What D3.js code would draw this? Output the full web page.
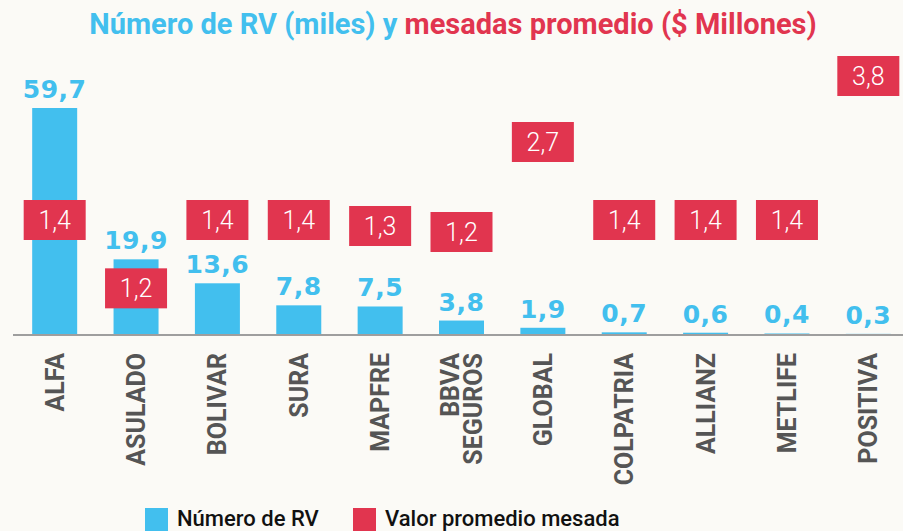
<!DOCTYPE html>
<html>
<head>
<meta charset="utf-8">
<script src="https://cdn.jsdelivr.net/npm/d3@7"></script>
<style>
  body { margin: 0; background: #fbfaf6; }
  svg { display: block; }
</style>
</head>
<body>
<script>
// datos
var aseguradoras = ["ALFA", "ASULADO", "BOLIVAR", "SURA", "MAPFRE", "BBVA SEGUROS", "GLOBAL", "COLPATRIA", "ALLIANZ", "METLIFE", "POSITIVA"];
var numeroRV = [59.7, 19.9, 13.6, 7.8, 7.5, 3.8, 1.9, 0.7, 0.6, 0.4, 0.3];
var mesada = [1.4, 1.2, 1.4, 1.4, 1.3, 1.2, 2.7, 1.4, 1.4, 1.4, 3.8];
var leyenda = ["Número de RV", "Valor promedio mesada"];

var width = 903, height = 531;
var azul = "#42bfee", rojo = "#e1354f";
var coma = d3.format(".1f");
function fmt(v) { return coma(v).replace(".", ","); }

var svg = d3.select("body").append("svg")
  .attr("width", width)
  .attr("height", height)
  .style("background", "#fbfaf6");

var x = d3.scaleBand()
  .domain(aseguradoras)
  .range([14, 909])
  .paddingInner(0.447)
  .paddingOuter(0.2235);

var y = d3.scaleLinear().domain([0, 59.7]).range([335, 108]);
// escala propia para las cajas rojas
var yR = d3.scaleLinear().domain([0, 3.8]).range([304, 76]);

var data = aseguradoras.map(function (d, i) {
  return { name: d, rv: numeroRV[i], mesada: mesada[i] };
});

// titulo
var title = svg.append("text")
  .attr("x", 453)
  .attr("y", 34)
  .attr("text-anchor", "middle")
  .style("font-family", "Roboto")
  .style("font-weight", "bold")
  .style("font-size", "29px");
title.append("tspan").attr("fill", azul).text("Número de RV (miles) y ");
title.append("tspan").attr("fill", rojo).text("mesadas promedio ($ Millones)");

// barras
svg.selectAll("rect.bar")
  .data(data)
  .enter().append("rect")
  .attr("class", "bar")
  .attr("x", d => x(d.name))
  .attr("width", x.bandwidth())
  .attr("y", d => y(d.rv))
  .attr("height", d => y(0) - y(d.rv))
  .attr("fill", azul);

// eje
var axis = svg.append("g")
  .attr("transform", "translate(0," + y(0) + ")")
  .call(d3.axisBottom(x).tickSize(0).tickFormat(""));
axis.select(".domain").remove();
axis.append("line")
  .attr("x1", 13).attr("x2", width)
  .attr("stroke", "#9e9e9e")
  .attr("stroke-width", 2);

// etiquetas azules
svg.selectAll("text.rv")
  .data(data)
  .enter().append("text")
  .attr("class", "rv")
  .attr("x", d => x(d.name) + x.bandwidth() / 2)
  .attr("y", d => y(d.rv) - 10)
  .attr("text-anchor", "middle")
  .attr("fill", azul)
  .style("font-family", "DejaVu Sans")
  .style("font-weight", "bold")
  .style("font-size", "25px")
  .style("letter-spacing", "0.5px")
  .text(d => fmt(d.rv));

// cajas rojas: si chocan con la etiqueta azul bajan dentro de la barra
var boxW = 62, boxH = 40;
function boxTop(d) {
  var top = yR(d.mesada) - boxH / 2;
  var lblTop = y(d.rv) - 29, lblBot = y(d.rv) - 8;
  if (top < lblBot && top + boxH > lblTop) top = y(d.rv) + 9;
  return top;
}
var cajas = svg.selectAll("g.caja")
  .data(data)
  .enter().append("g")
  .attr("class", "caja")
  .attr("transform", d => "translate(" + (x(d.name) + x.bandwidth() / 2) + "," + boxTop(d) + ")");
cajas.append("rect")
  .attr("x", -boxW / 2)
  .attr("width", boxW)
  .attr("height", boxH)
  .attr("fill", rojo);
cajas.append("text")
  .attr("y", boxH / 2 + 9)
  .attr("text-anchor", "middle")
  .attr("fill", "white")
  .style("font-family", "Roboto")
  .style("font-weight", "300")
  .style("font-size", "25px")
  .text(d => fmt(d.mesada));

// nombres
var nombres = svg.selectAll("text.nombre")
  .data(data)
  .enter().append("text")
  .attr("class", "nombre")
  .attr("transform", function (d) {
    var n = d.name.split(" ").length;
    var cx = x(d.name) + x.bandwidth() / 2 + 9 - (n - 1) * 11.5;
    return "translate(" + cx + ",353) rotate(-90)";
  })
  .attr("text-anchor", "end")
  .attr("fill", "#555555")
  .style("font-family", "Roboto")
  .style("font-weight", "bold")
  .style("font-size", "25px");
nombres.selectAll("tspan")
  .data(d => d.name.split(" "))
  .enter().append("tspan")
  .attr("x", 0)
  .attr("dy", (d, i) => i ? 23 : 0)
  .text(d => d);

// leyenda
var ley = svg.selectAll("g.ley")
  .data(leyenda)
  .enter().append("g")
  .attr("class", "ley")
  .attr("transform", (d, i) => "translate(" + (i ? 353 : 145) + ",508)");
ley.append("rect")
  .attr("width", 23)
  .attr("height", 23)
  .attr("fill", (d, i) => i ? rojo : azul);
ley.append("text")
  .attr("x", 32)
  .attr("y", 18)
  .attr("fill", "#111")
  .style("font-family", "Roboto")
  .style("font-weight", "500")
  .style("font-size", "22px")
  .text(d => d);
</script>
</body>
</html>
